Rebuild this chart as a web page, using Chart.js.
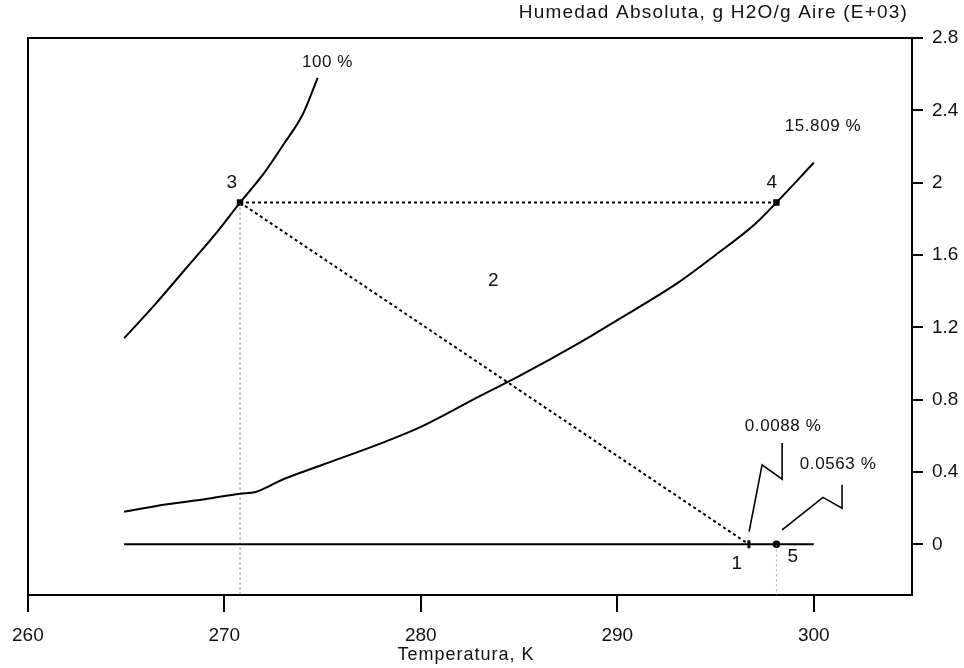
<!DOCTYPE html>
<html>
<head>
<meta charset="utf-8">
<script src="https://cdn.jsdelivr.net/npm/chart.js@4.4.1/dist/chart.umd.min.js"></script>
<style>
  html, body { margin: 0; padding: 0; background: #fff; }
  #wrap { width: 964px; height: 668px; position: relative; }
</style>
</head>
<body>
<div id="wrap"><canvas id="psy"></canvas></div>
<script>
/* --------- DATA --------- */
const xTicks = [260, 270, 280, 290, 300];
const yTicks = [0, 0.4, 0.8, 1.2, 1.6, 2, 2.4, 2.8];

// saturation curve (100 %)
const satT = [264.9, 266.5, 268, 269.5, 270.8, 272, 273, 274, 274.75];
const satH = [1.14, 1.33, 1.52, 1.71, 1.89, 2.05, 2.21, 2.38, 2.58];

// 15.809 % relative humidity curve
const rhT = [264.9, 267, 269, 270.8, 271.6, 273, 275, 278, 280, 283, 285, 288, 290, 293, 295, 297, 298.1, 300];
const rhH = [0.18, 0.22, 0.25, 0.28, 0.29, 0.36, 0.44, 0.56, 0.65, 0.82, 0.93, 1.11, 1.24, 1.44, 1.60, 1.77, 1.89, 2.11];

// dry line (≈0 %)
const dryT = [264.9, 300];
const dryH = [0, 0];

// process states 1, 3, 4, 5
const stateT = [296.7, 270.8, 298.1, 298.1];
const stateH = [0, 1.89, 1.89, 0];

// leader lines for the 0.0088 % and 0.0563 % tags
const lead1T = [296.71, 297.37, 298.39, 298.39];
const lead1H = [0.07, 0.44, 0.36, 0.56];
const lead2T = [298.39, 300.47, 301.44, 301.44];
const lead2H = [0.08, 0.26, 0.20, 0.33];

const pts = (xs, ys) => xs.map((x, i) => ({ x, y: ys[i] }));

/* --------- TEXT --------- */
const tags = [
  { text: "100 %", t: 275.25, h: 2.667, size: 17 },
  { text: "15.809 %", t: 300.47, h: 2.31, size: 17 },
  { text: "0.0088 %", t: 298.44, h: 0.653, size: 17 },
  { text: "0.0563 %", t: 301.24, h: 0.443, size: 17 },
  { text: "3", t: 270.39, h: 2.0, size: 19 },
  { text: "4", t: 297.88, h: 2.0, size: 19 },
  { text: "2", t: 283.7, h: 1.46, size: 19 },
  { text: "1", t: 296.1, h: -0.11, size: 19 },
  { text: "5", t: 298.95, h: -0.066, size: 19 }
];

const FONT = "'Liberation Sans', Arial, sans-serif";

const textPlugin = {
  id: "texts",
  afterDraw(chart) {
    const { ctx, scales } = chart;
    ctx.save();
    ctx.fillStyle = "#111";
    ctx.textBaseline = "middle";
    ctx.letterSpacing = "0.6px";
    tags.forEach(tg => {
      ctx.font = `${tg.size}px ${FONT}`;
      ctx.textAlign = "center";
      ctx.fillText(tg.text, scales.x.getPixelForValue(tg.t), scales.y.getPixelForValue(tg.h));
    });
    ctx.font = `19px ${FONT}`;
    ctx.letterSpacing = "1.2px";
    ctx.textAlign = "right";
    ctx.fillText("Humedad Absoluta, g H2O/g Aire (E+03)", 908, 13);
    ctx.font = `18px ${FONT}`;
    ctx.letterSpacing = "1px";
    ctx.textAlign = "center";
    ctx.fillText("Temperatura, K", 466, 655);
    ctx.restore();
  }
};

/* --------- CHART --------- */
const line = (data, extra) => Object.assign({
  data, showLine: true, borderColor: "#000", borderWidth: 2,
  pointRadius: 0, fill: false, tension: 0
}, extra);

const edge = { color: "#000", width: 2 };

new Chart(document.getElementById("psy"), {
  type: "scatter",
  data: {
    datasets: [
      line(pts(satT, satH), { cubicInterpolationMode: "monotone" }),
      line(pts(rhT, rhH), { cubicInterpolationMode: "monotone" }),
      line(pts(dryT, dryH)),
      // faint drop lines under states 3 and 5
      line(pts([stateT[1], stateT[1]], [stateH[1], -0.28]), { borderColor: "#777", borderWidth: 1, borderDash: [2, 3] }),
      line(pts([stateT[3], stateT[3]], [0, -0.28]), { borderColor: "#aaa", borderWidth: 1, borderDash: [2, 3] }),
      // 3 -> 4 heating and 3 -> 1 mixing
      line(pts([stateT[1], stateT[2]], [stateH[1], stateH[2]]), { borderDash: [3, 3] }),
      line(pts([stateT[1], stateT[0]], [stateH[1], stateH[0]]), { borderDash: [3, 3] }),
      line(pts(lead1T, lead1H), { borderWidth: 1.6 }),
      line(pts(lead2T, lead2H), { borderWidth: 1.6 }),
      {
        data: pts(stateT, stateH),
        pointStyle: ["line", "rect", "rect", "circle"],
        pointRotation: [90, 0, 0, 0],
        pointRadius: [4, 3.5, 3.5, 3],
        backgroundColor: "#000",
        borderColor: "#000",
        borderWidth: [3, 1.5, 1.5, 1.5]
      }
    ]
  },
  options: {
    responsive: true,
    maintainAspectRatio: false,
    animation: false,
    events: [],
    layout: { padding: { left: 27, top: 38, right: 0, bottom: 0 } },
    plugins: { legend: { display: false }, tooltip: { enabled: false } },
    scales: {
      x: {
        type: "linear", position: "bottom", min: 260, max: 305,
        afterBuildTicks: s => { s.ticks = xTicks.map(v => ({ value: v })); },
        afterFit: s => { s.height = 73; },
        grid: { drawOnChartArea: false, tickLength: 17, color: "#000", lineWidth: 2 },
        border: edge,
        ticks: { color: "#111", padding: 12, font: { family: FONT, size: 19 } }
      },
      y: {
        type: "linear", position: "right", min: -0.28, max: 2.8,
        afterBuildTicks: s => { s.ticks = yTicks.map(v => ({ value: v })); },
        afterFit: s => { s.width = 52; },
        grid: { drawOnChartArea: false, tickLength: 11, color: "#000", lineWidth: 2 },
        border: edge,
        ticks: { color: "#111", padding: 9, font: { family: FONT, size: 19 }, callback: v => String(v) }
      },
      xTop: {
        type: "linear", position: "top", min: 260, max: 305,
        afterFit: s => { s.height = 0; },
        ticks: { display: false },
        grid: { drawOnChartArea: false, drawTicks: false },
        border: edge
      },
      yLeft: {
        type: "linear", position: "left", min: -0.28, max: 2.8,
        afterFit: s => { s.width = 0; },
        ticks: { display: false },
        grid: { drawOnChartArea: false, drawTicks: false },
        border: edge
      }
    }
  },
  plugins: [textPlugin]
});
</script>
</body>
</html>
